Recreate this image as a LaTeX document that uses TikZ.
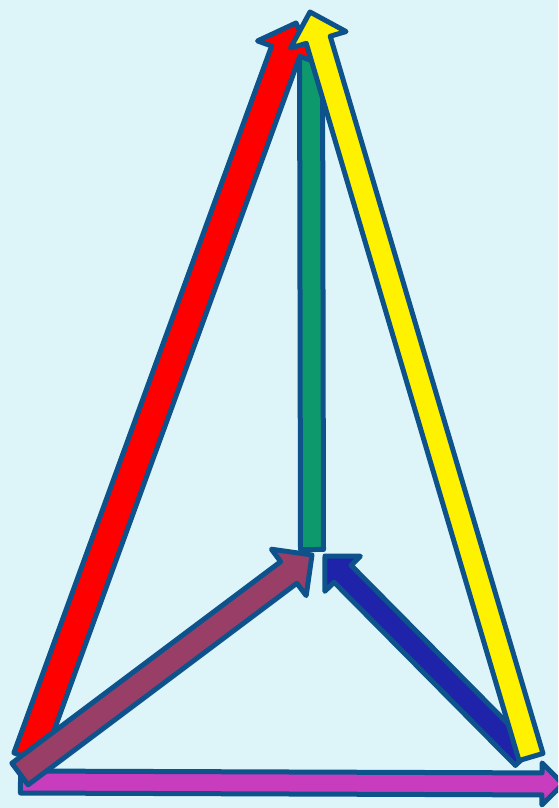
\documentclass[tikz,border=0pt]{standalone}
\usetikzlibrary{calc}
\definecolor{sky}{RGB}{221,245,248}
\definecolor{rim}{RGB}{14,82,140}
\definecolor{jade}{RGB}{13,153,108}
\definecolor{plum}{RGB}{153,63,103}
\definecolor{navy}{RGB}{30,35,170}
\definecolor{orchid}{RGB}{200,60,190}
\tikzset{pixels/.style={x=1pt,y=-1pt,line join=round},
  arrowline/.style={draw=rim,line width=5pt}}
% block arrow: fill, tail, tip, shaft half width, head size
\newcommand{\blockarrow}[5]{%
  \coordinate (hb) at ($(#3)!#5!(#2)$);
  \filldraw[arrowline,fill=#1]
    ($(#2)!#4!90:(#3)$) -- ($(hb)!#4!90:(#3)$) -- ($(hb)!#5!90:(#3)$)
    -- (#3) -- ($(hb)!#5!-90:(#3)$) -- ($(hb)!#4!-90:(#3)$)
    -- ($(#2)!#4!-90:(#3)$) -- cycle;
}

\begin{document}
\begin{tikzpicture}[pixels]
  \fill[sky] (0,0) rectangle (558,808);
  \useasboundingbox (0,0) rectangle (558,808);
  \clip (0,0) rectangle (558,808);

  \coordinate (Gt) at (312,549.5);
  \coordinate (Gh) at (311,34);
  \coordinate (Rt) at (28,758);
  \coordinate (Rh) at (296,23);
  \coordinate (Yt) at (531,757);
  \coordinate (Yh) at (310,12);
  \coordinate (Bt) at (524,757);
  \coordinate (Bh) at (325,556);
  \coordinate (Mt) at (20.5,782);
  \coordinate (Mh) at (563,784);
  \coordinate (Pt) at (20,774);
  \coordinate (Ph) at (312,555);

  \blockarrow{jade}{Gt}{Gh}{11.5pt}{18pt}
  \blockarrow{red}{Rt}{Rh}{15pt}{30pt}
  \blockarrow{navy}{Bt}{Bh}{12pt}{25pt}
  \blockarrow{yellow}{Yt}{Yh}{12.5pt}{29pt}
  \blockarrow{orchid}{Mt}{Mh}{11pt}{21pt}
  \blockarrow{plum}{Pt}{Ph}{13.5pt}{29pt}
\end{tikzpicture}
\end{document}
